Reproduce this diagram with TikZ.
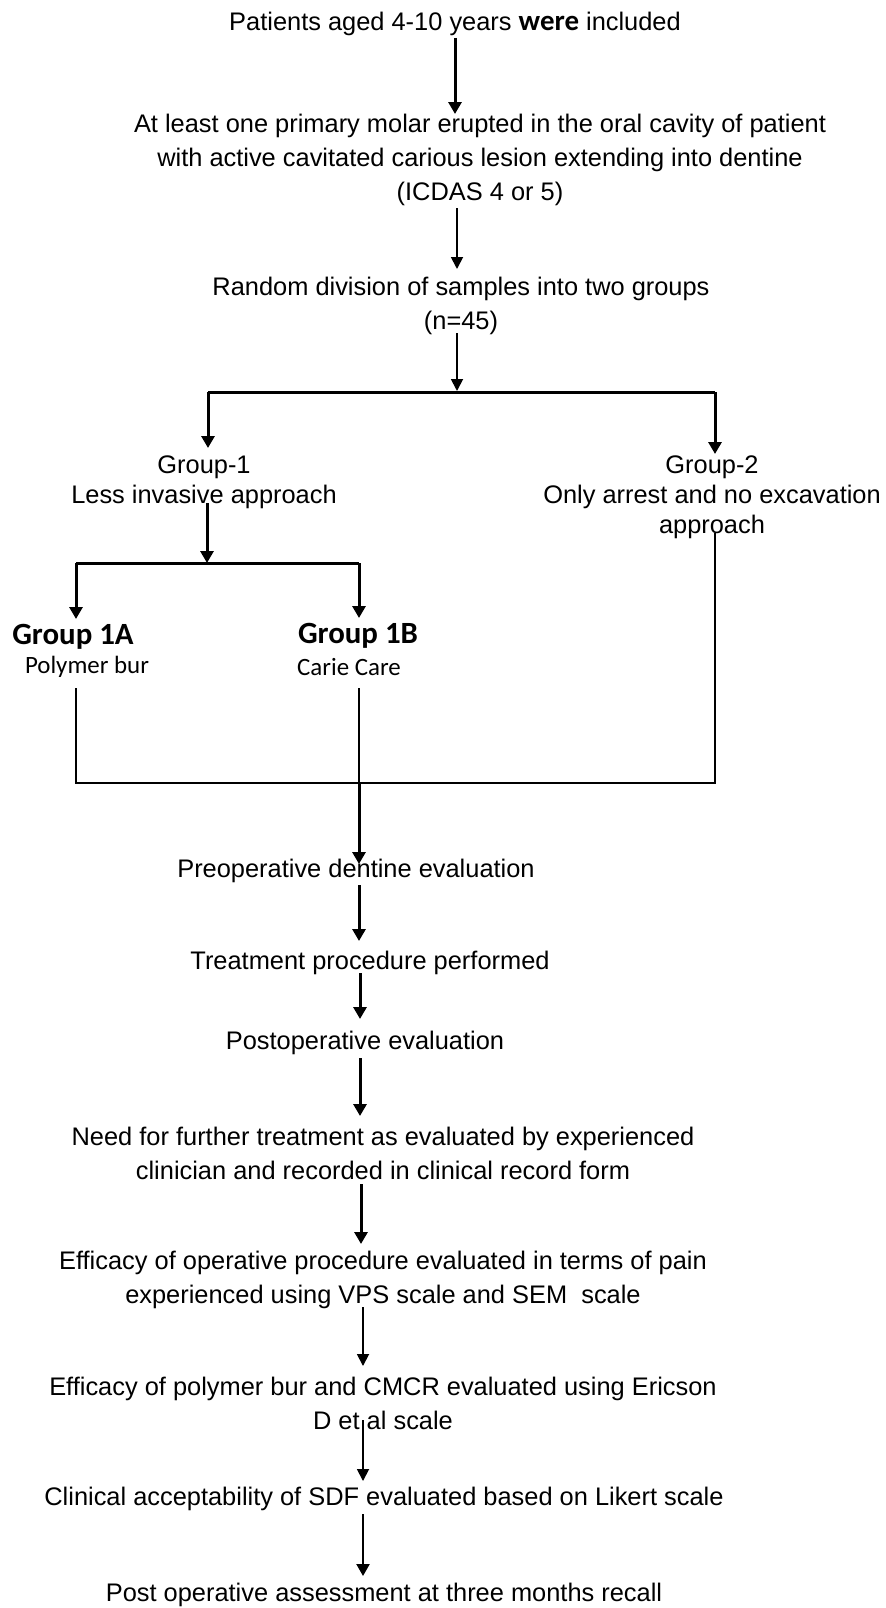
\documentclass[tikz,border=0pt]{standalone}
\usepackage{fontspec}
\setmainfont{Liberation Sans}
\newfontfamily\calib{Carlito}
\usetikzlibrary{arrows.meta}
\begin{document}
\begin{tikzpicture}[x=1bp,y=-1bp,
  txt/.style={align=center, inner sep=0pt, font=\fontsize{25.5}{34}\selectfont},
  gtxt/.style={align=center, inner sep=0pt, font=\fontsize{25.5}{30}\selectfont},
  grp/.style={inner sep=0pt, font=\calib\bfseries\fontsize{31}{36}\selectfont},
  sub/.style={inner sep=0pt, font=\calib\fontsize{25}{30}\selectfont},
  thk/.style={line width=3bp, -{Triangle[width=13bp,length=12bp]}},
  thn/.style={line width=1.8bp, -{Triangle[width=12bp,length=12bp]}},
  thkline/.style={line width=3bp},
  thnline/.style={line width=1.5bp}]
\useasboundingbox[fill=white] (0,0) rectangle (885,1608);

% text nodes
\node[txt] (t1) at (455,24) {Patients aged 4-10 years {\calib\bfseries\fontsize{29}{33}\selectfont were} included};
\node[txt] (t2) at (480,160) {At least one primary molar erupted in the oral cavity of patient\\with active cavitated carious lesion extending into dentine\\(ICDAS 4 or 5)};
\node[txt] (t3) at (461,306) {Random division of samples into two groups\\(n=45)};
\node[gtxt] (g1) at (204,482) {Group-1\\Less invasive approach};
\node[gtxt] (g2) at (712,497) {Group-2\\Only arrest and no excavation\\approach};
\node[grp] (g1a) at (73,637) {Group 1A};
\node[sub] (pb) at (87,667) {Polymer bur};
\node[grp] (g1b) at (358,636) {Group 1B};
\node[sub] (cc) at (349,667) {Carie Care};
\node[txt] (pre) at (356,871) {Preoperative dentine evaluation};
\node[txt] (trt) at (370,963) {Treatment procedure performed};
\node[txt] (post) at (365,1043) {Postoperative evaluation};
\node[txt] (need) at (383,1153) {Need for further treatment as evaluated by experienced\\clinician and recorded in clinical record form};
\node[txt] (eff1) at (383,1280) {Efficacy of operative procedure evaluated in terms of pain\\experienced using VPS scale and SEM\ \ scale};
\node[txt] (eff2) at (383,1403) {Efficacy of polymer bur and CMCR evaluated using Ericson\\D et al scale};
\node[txt] (clin) at (384,1499) {Clinical acceptability of SDF evaluated based on Likert scale};
\node[txt] (fin) at (384,1595) {Post operative assessment at three months recall};

% junction coordinates
\coordinate (a1s) at (455,38);   \coordinate (a1e) at (455,114);
\coordinate (a2s) at (457,208);  \coordinate (a2e) at (457,269);
\coordinate (a3s) at (457,333);  \coordinate (a3e) at (457,391);
\coordinate (b1l) at (208,392);  \coordinate (b1r) at (715,392);
\coordinate (d1e) at (208,448);  \coordinate (d2e) at (715,454);
\coordinate (g1s) at (207,503);  \coordinate (g1e) at (207,563);
\coordinate (b2l) at (76,563);   \coordinate (b2r) at (359,563);
\coordinate (d3e) at (76,619);   \coordinate (d4e) at (359,618);
\coordinate (l1s) at (76,688);   \coordinate (l2s) at (359,688);
\coordinate (l3s) at (715,533);
\coordinate (b3l) at (76,783);   \coordinate (b3m) at (359,783);  \coordinate (b3r) at (715,783);
\coordinate (a4e) at (359,864);
\coordinate (a5s) at (359,885);  \coordinate (a5e) at (359,941);
\coordinate (a6s) at (360,973);  \coordinate (a6e) at (360,1019);
\coordinate (a7s) at (360,1058); \coordinate (a7e) at (360,1116);
\coordinate (a8s) at (361,1184); \coordinate (a8e) at (361,1244);
\coordinate (a9s) at (363,1307); \coordinate (a9e) at (363,1366);
\coordinate (a10s) at (363,1420);\coordinate (a10e) at (363,1481);
\coordinate (a11s) at (363,1514);\coordinate (a11e) at (363,1576);

% connectors
\draw[thk] (a1s) -- (a1e);
\draw[thn] (a2s) -- (a2e);
\draw[thn] (a3s) -- (a3e);
\draw[thkline] (b1l) -- (b1r);
\draw[thk] (b1l) -- (d1e);
\draw[thk] (b1r) -- (d2e);
\draw[thk] (g1s) -- (g1e);
\draw[thkline] (b2l) -- (b2r);
\draw[thk] (b2l) -- (d3e);
\draw[thk] (b2r) -- (d4e);
\draw[thnline] (l1s) -- (b3l) -- (b3r) -- (l3s);
\draw[thnline] (l2s) -- (b3m);
\draw[thk] (b3m) -- (a4e);
\draw[thk] (a5s) -- (a5e);
\draw[thk] (a6s) -- (a6e);
\draw[thk] (a7s) -- (a7e);
\draw[thk] (a8s) -- (a8e);
\draw[thn] (a9s) -- (a9e);
\draw[thn] (a10s) -- (a10e);
\draw[thk,line width=2.2bp] (a11s) -- (a11e);
\end{tikzpicture}
\end{document}
